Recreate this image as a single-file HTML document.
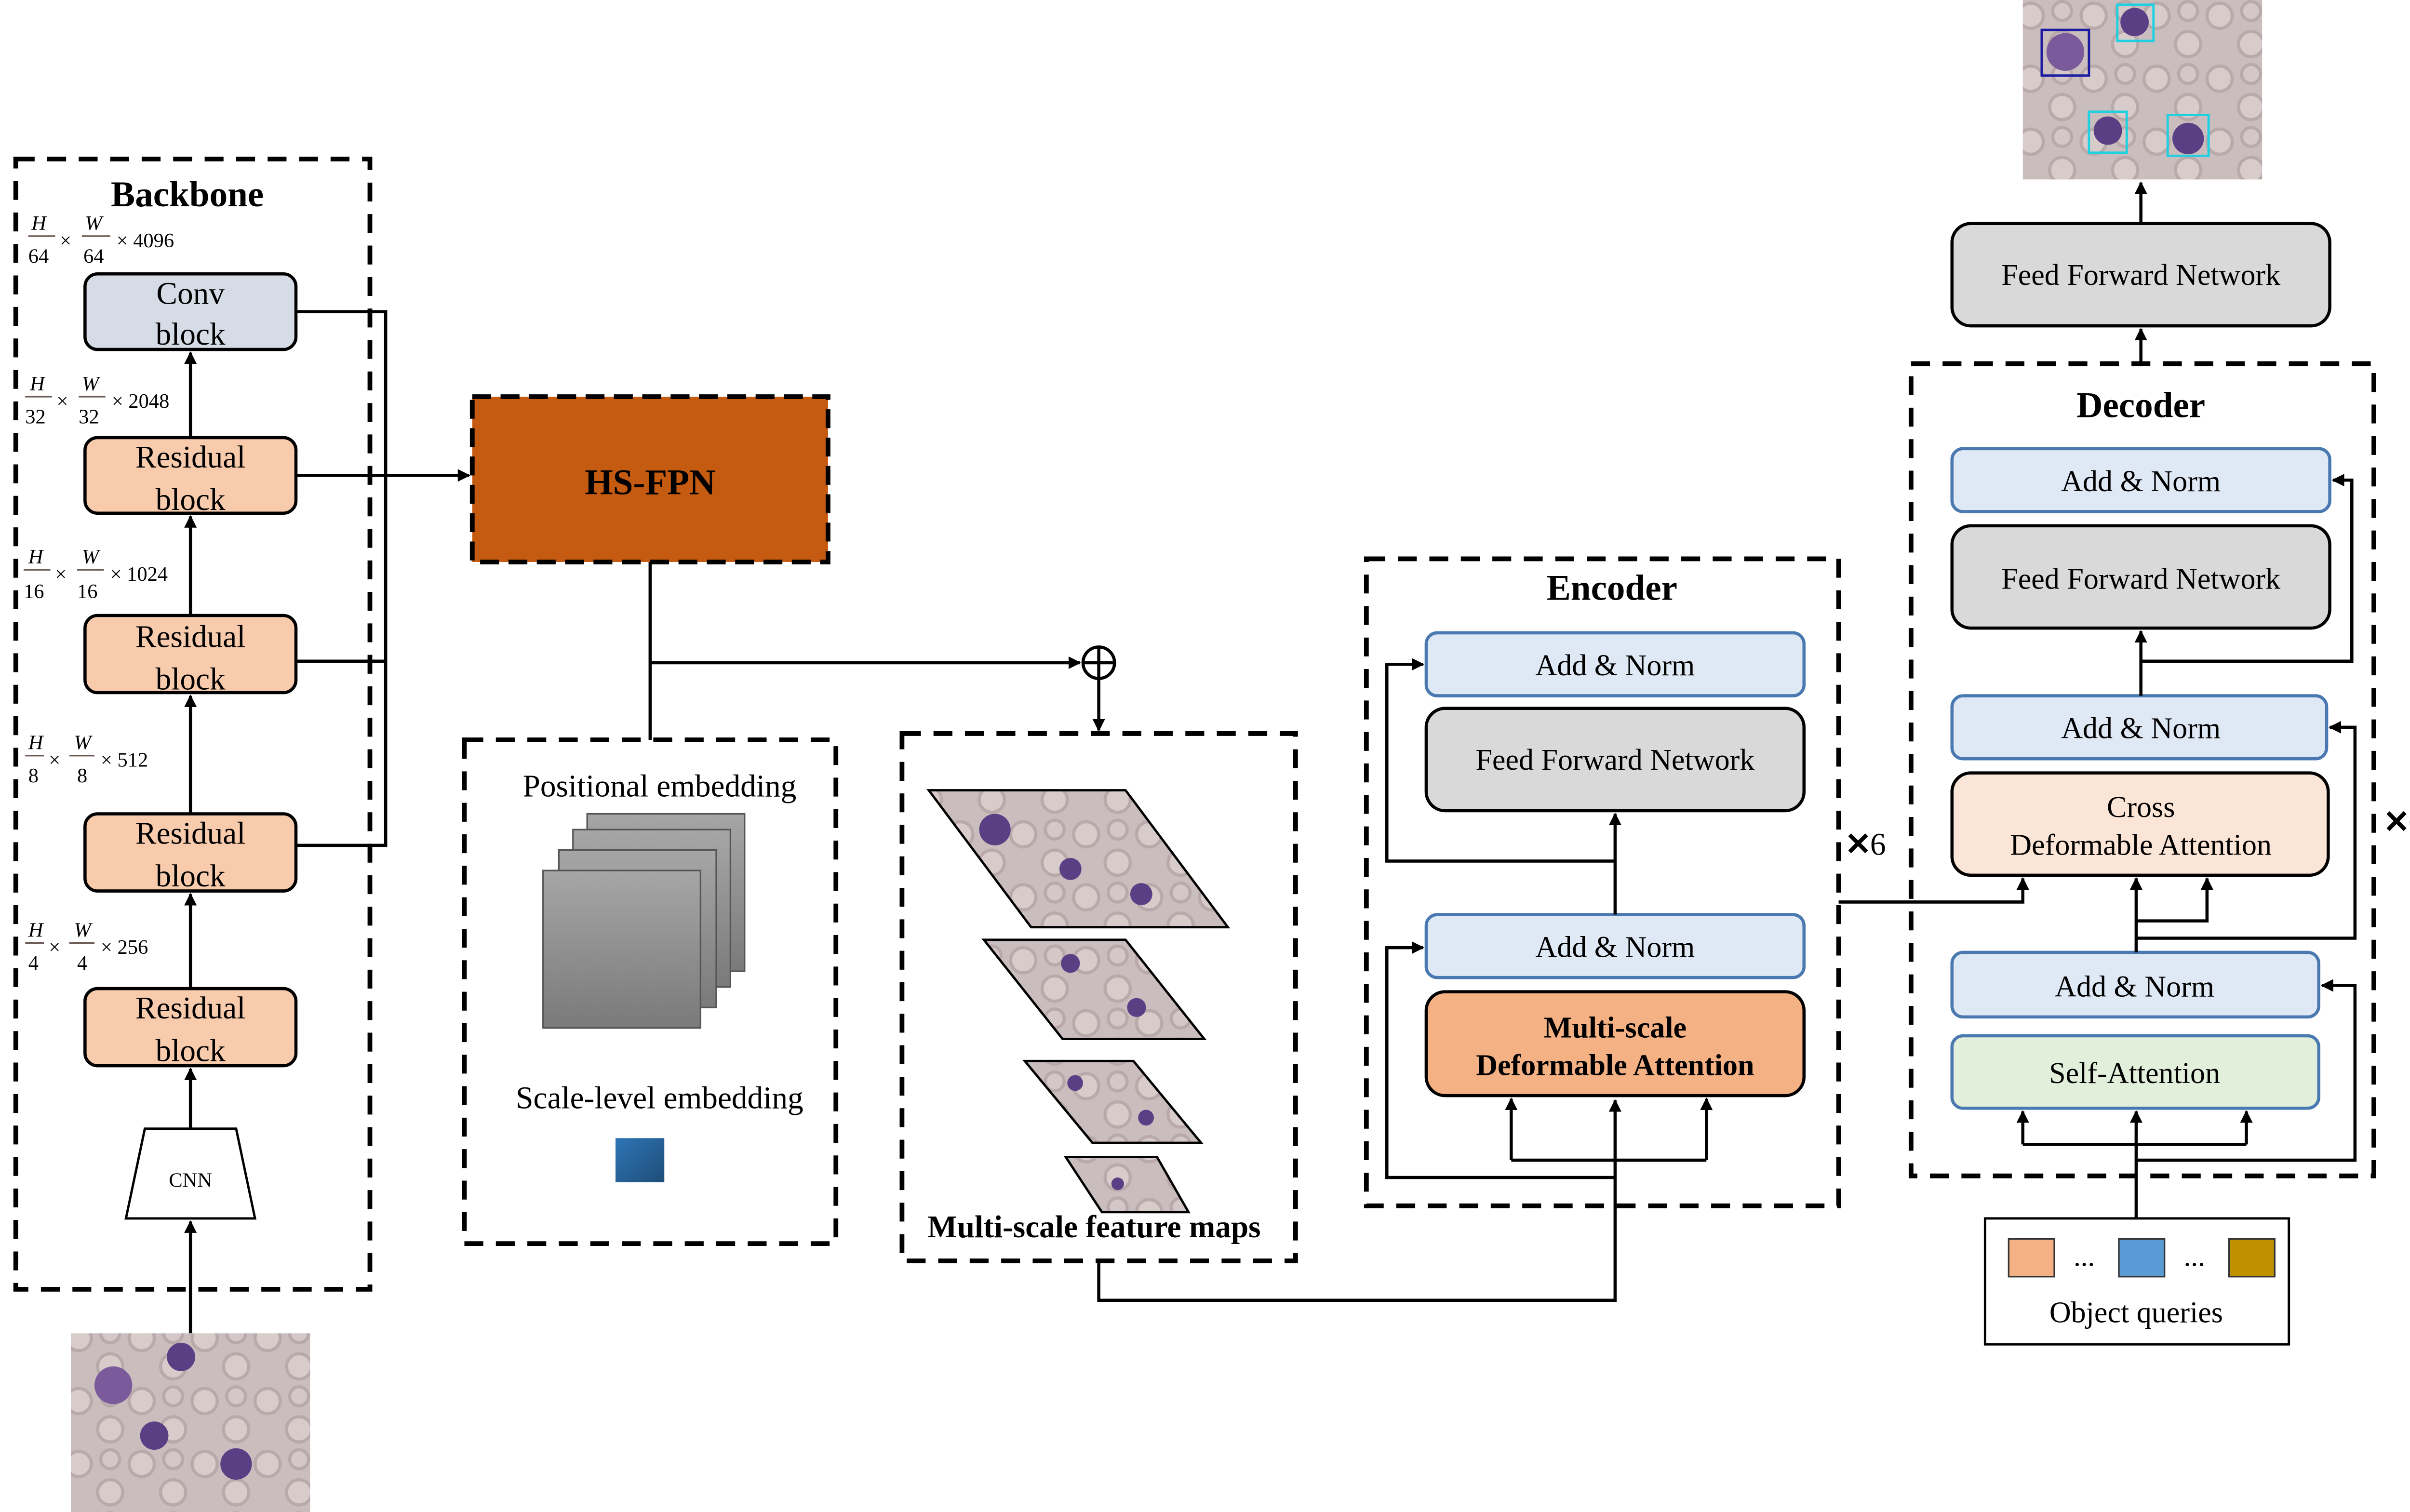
<!DOCTYPE html>
<html><head><meta charset="utf-8"><style>
html,body{margin:0;padding:0;background:#fff;}
svg{display:block;}
text{font-family:"Liberation Serif",serif;fill:#000;}
</style></head><body>
<svg width="5121" height="3137" viewBox="0 0 1568 960.5" preserveAspectRatio="none" xmlns="http://www.w3.org/2000/svg">
<defs>
<marker id="a" viewBox="0 0 10 10" refX="9" refY="5" markerWidth="4" markerHeight="4" orient="auto"><path d="M0,0L10,5L0,10z" fill="#000"/></marker>
<linearGradient id="g" x1="0" y1="0" x2="0" y2="1"><stop offset="0" stop-color="#a6a6a6"/><stop offset="1" stop-color="#7a7a7a"/></linearGradient>
<linearGradient id="bl" x1="0" y1="0" x2="1" y2="1"><stop offset="0" stop-color="#2e75b6"/><stop offset="1" stop-color="#1f4e79"/></linearGradient>
<pattern id="cells" width="40" height="40" patternUnits="userSpaceOnUse">
<rect width="40" height="40" fill="#c9bdbd"/>
<circle cx="10" cy="10" r="8" fill="#d8cccb" stroke="#b9a9aa" stroke-width="2"/>
<circle cx="30" cy="28" r="8" fill="#d8cccb" stroke="#b9a9aa" stroke-width="2"/>
<circle cx="30" cy="7" r="6" fill="#d4c7c7" stroke="#b9a9aa" stroke-width="2"/>
</pattern>
</defs>
<g fill="none" stroke="#000" stroke-width="2.2">
<!-- dashed boxes -->
<rect x="10" y="101" width="225" height="718" stroke-width="3" stroke-dasharray="12,8"/>
<rect x="295" y="470" width="236" height="320" stroke-width="3" stroke-dasharray="12,8"/>
<rect x="573" y="466" width="250" height="335" stroke-width="3" stroke-dasharray="12,8"/>
<rect x="868" y="355" width="300" height="411" stroke-width="3" stroke-dasharray="12,8"/>
<rect x="1214" y="231" width="294" height="516" stroke-width="3" stroke-dasharray="12,8"/>
</g>
<!-- Backbone -->
<text x="119" y="131" font-size="23" font-weight="bold" text-anchor="middle">Backbone</text>
<g font-size="13">
<text x="20" y="146" font-style="italic">H</text><line x1="18" y1="150" x2="35" y2="150" stroke="#6b5a55"/><text x="18" y="167">64</text><text x="38" y="157">×</text>
<text x="54" y="146" font-style="italic">W</text><line x1="52" y1="150" x2="70" y2="150" stroke="#6b5a55"/><text x="53" y="167">64</text><text x="74" y="157">× 4096</text>
<text x="19" y="248" font-style="italic">H</text><line x1="16" y1="252" x2="33" y2="252" stroke="#6b5a55"/><text x="16" y="269">32</text><text x="36" y="259">×</text>
<text x="52" y="248" font-style="italic">W</text><line x1="50" y1="252" x2="67" y2="252" stroke="#6b5a55"/><text x="50" y="269">32</text><text x="71" y="259">× 2048</text>
<text x="18" y="358" font-style="italic">H</text><line x1="15" y1="362" x2="32" y2="362" stroke="#6b5a55"/><text x="15" y="380">16</text><text x="35" y="369">×</text>
<text x="52" y="358" font-style="italic">W</text><line x1="49" y1="362" x2="66" y2="362" stroke="#6b5a55"/><text x="49" y="380">16</text><text x="70" y="369">× 1024</text>
<text x="18" y="476" font-style="italic">H</text><line x1="16" y1="480" x2="28" y2="480" stroke="#6b5a55"/><text x="18" y="497">8</text><text x="31" y="487">×</text>
<text x="47" y="476" font-style="italic">W</text><line x1="44" y1="480" x2="60" y2="480" stroke="#6b5a55"/><text x="49" y="497">8</text><text x="64" y="487">× 512</text>
<text x="18" y="595" font-style="italic">H</text><line x1="16" y1="599" x2="28" y2="599" stroke="#6b5a55"/><text x="18" y="616">4</text><text x="31" y="606">×</text>
<text x="47" y="595" font-style="italic">W</text><line x1="44" y1="599" x2="60" y2="599" stroke="#6b5a55"/><text x="49" y="616">4</text><text x="64" y="606">× 256</text>
</g>
<g stroke="#000" stroke-width="2">
<rect x="54" y="174" width="134" height="48" rx="8" fill="#d6dce5"/>
<rect x="54" y="278" width="134" height="48" rx="8" fill="#f8cbad"/>
<rect x="54" y="391" width="134" height="49" rx="8" fill="#f8cbad"/>
<rect x="54" y="517" width="134" height="49" rx="8" fill="#f8cbad"/>
<rect x="54" y="628" width="134" height="49" rx="8" fill="#f8cbad"/>
<path d="M92,717L150,717L162,774L80,774z" fill="#fff" stroke-width="1.5"/>
</g>
<g font-size="20" text-anchor="middle">
<text x="121" y="193">Conv</text><text x="121" y="219">block</text>
<text x="121" y="297">Residual</text><text x="121" y="324">block</text>
<text x="121" y="411">Residual</text><text x="121" y="438">block</text>
<text x="121" y="536">Residual</text><text x="121" y="563">block</text>
<text x="121" y="647">Residual</text><text x="121" y="674">block</text>
</g>
<text x="121" y="754" font-size="13" text-anchor="middle">CNN</text>
<g fill="none" stroke="#000" stroke-width="2">
<path d="M121,278V224" marker-end="url(#a)"/>
<path d="M121,391V328" marker-end="url(#a)"/>
<path d="M121,517V442" marker-end="url(#a)"/>
<path d="M121,628V568" marker-end="url(#a)"/>
<path d="M121,717V679" marker-end="url(#a)"/>
<path d="M121,847V776" marker-end="url(#a)"/>
<path d="M188,198H245V537H188"/>
<path d="M188,420H245"/>
<path d="M188,302H298" marker-end="url(#a)"/>
</g>
<!-- input image -->
<rect x="45" y="847" width="152" height="114" fill="url(#cells)"/>
<circle cx="72" cy="880" r="12" fill="#7a5a9a"/><circle cx="115" cy="862" r="9" fill="#5a3f85"/><circle cx="98" cy="912" r="9" fill="#5a3f85"/><circle cx="150" cy="930" r="10" fill="#5a3f85"/>
<!-- HS-FPN -->
<rect x="300" y="252" width="226" height="105" fill="#c55a11" stroke="#000" stroke-width="3" stroke-dasharray="12,6"/>
<text x="413" y="314" font-size="23" font-weight="bold" text-anchor="middle">HS-FPN</text>
<g fill="none" stroke="#000" stroke-width="2">
<path d="M413,357V470"/>
<path d="M413,421H686" marker-end="url(#a)"/>
<circle cx="698" cy="421" r="10"/>
<path d="M688,421H708M698,411V431"/>
<path d="M698,431V464" marker-end="url(#a)"/>
<path d="M698,801V826H1026V699" marker-end="url(#a)"/>
</g>
<!-- positional -->
<text x="419" y="506" font-size="20" text-anchor="middle">Positional embedding</text>
<g stroke="#555" stroke-width="1">
<rect x="373" y="517" width="100" height="100" fill="url(#g)"/>
<rect x="364" y="527" width="100" height="100" fill="url(#g)"/>
<rect x="355" y="540" width="100" height="100" fill="url(#g)"/>
<rect x="345" y="553" width="100" height="100" fill="url(#g)"/>
</g>
<text x="419" y="704" font-size="20" text-anchor="middle">Scale-level embedding</text>
<rect x="391" y="723" width="31" height="28" fill="url(#bl)"/>
<!-- feature maps -->
<g fill="url(#cells)" stroke="#000" stroke-width="1.5">
<path d="M590,502H715L780,589H655z"/>
<path d="M625,597H715L765,660H675z"/>
<path d="M651,674H720L763,726H694z"/>
<path d="M677,735H735L755,770H700z"/>
</g>
<g fill="#5a3f85"><circle cx="632" cy="527" r="10"/><circle cx="680" cy="552" r="7"/><circle cx="725" cy="568" r="7"/><circle cx="680" cy="612" r="6"/><circle cx="722" cy="640" r="6"/><circle cx="683" cy="688" r="5"/><circle cx="728" cy="710" r="5"/><circle cx="710" cy="752" r="4"/></g>
<text x="695" y="786" font-size="20" font-weight="bold" text-anchor="middle">Multi-scale feature maps</text>
<!-- Encoder -->
<text x="1024" y="381" font-size="23" font-weight="bold" text-anchor="middle">Encoder</text>
<g stroke-width="2">
<rect x="906" y="402" width="240" height="40" rx="7" fill="#dfe9f6" stroke="#4a78b0"/>
<rect x="906" y="450" width="240" height="65" rx="12" fill="#d9d9d9" stroke="#000"/>
<rect x="906" y="581" width="240" height="40" rx="7" fill="#dfe9f6" stroke="#4a78b0"/>
<rect x="906" y="630" width="240" height="66" rx="12" fill="#f4b183" stroke="#000"/>
</g>
<g font-size="19" text-anchor="middle">
<text x="1026" y="429">Add &amp; Norm</text>
<text x="1026" y="489">Feed Forward Network</text>
<text x="1026" y="608">Add &amp; Norm</text>
<text x="1026" y="659" font-weight="bold">Multi-scale</text>
<text x="1026" y="683" font-weight="bold">Deformable Attention</text>
</g>
<g fill="none" stroke="#000" stroke-width="2">
<path d="M960,737H1084"/>
<path d="M960,737V698" marker-end="url(#a)"/>
<path d="M1084,737V698" marker-end="url(#a)"/>
<path d="M1026,748H881V602H904" marker-end="url(#a)"/>
<path d="M1026,581V517" marker-end="url(#a)"/>
<path d="M1026,547H881V422H904" marker-end="url(#a)"/>
<path d="M1168,573H1285V558" marker-end="url(#a)"/>
</g>
<text x="1172" y="543" font-size="20" font-weight="bold">✕</text><text x="1188" y="543" font-size="20">6</text>
<!-- Decoder -->
<text x="1360" y="265" font-size="23" font-weight="bold" text-anchor="middle">Decoder</text>
<g stroke-width="2">
<rect x="1240" y="285" width="240" height="40" rx="7" fill="#dfe9f6" stroke="#4a78b0"/>
<rect x="1240" y="334" width="240" height="65" rx="12" fill="#d9d9d9" stroke="#000"/>
<rect x="1240" y="442" width="238" height="40" rx="7" fill="#dfe9f6" stroke="#4a78b0"/>
<rect x="1240" y="491" width="239" height="65" rx="12" fill="#fbe5d6" stroke="#000"/>
<rect x="1240" y="605" width="233" height="41" rx="7" fill="#dfe9f6" stroke="#4a78b0"/>
<rect x="1240" y="658" width="233" height="46" rx="7" fill="#e2efda" stroke="#4a78b0"/>
<rect x="1240" y="142" width="240" height="65" rx="12" fill="#d9d9d9" stroke="#000"/>
</g>
<g font-size="19" text-anchor="middle">
<text x="1360" y="312">Add &amp; Norm</text>
<text x="1360" y="374">Feed Forward Network</text>
<text x="1360" y="469">Add &amp; Norm</text>
<text x="1360" y="519">Cross</text>
<text x="1360" y="543">Deformable Attention</text>
<text x="1356" y="633">Add &amp; Norm</text>
<text x="1356" y="688">Self-Attention</text>
<text x="1360" y="181">Feed Forward Network</text>
</g>
<g fill="none" stroke="#000" stroke-width="2">
<path d="M1357,774V706" marker-end="url(#a)"/>
<path d="M1285,727H1427"/>
<path d="M1285,727V706" marker-end="url(#a)"/>
<path d="M1427,727V706" marker-end="url(#a)"/>
<path d="M1357,737H1496V626H1475" marker-end="url(#a)"/>
<path d="M1357,605V558" marker-end="url(#a)"/>
<path d="M1357,585H1402V558" marker-end="url(#a)"/>
<path d="M1357,596H1496V462H1480" marker-end="url(#a)"/>
<path d="M1360,442V401" marker-end="url(#a)"/>
<path d="M1360,420H1494V305H1482" marker-end="url(#a)"/>
<path d="M1360,231V209" marker-end="url(#a)"/>
<path d="M1360,142V116" marker-end="url(#a)"/>
</g>
<text x="1514" y="529" font-size="20" font-weight="bold">✕</text><text x="1530" y="529" font-size="20">6</text>
<!-- output image -->
<rect x="1285" y="0" width="152" height="114" fill="url(#cells)"/>
<circle cx="1312" cy="33" r="12" fill="#7a5a9a"/><circle cx="1356" cy="14" r="9" fill="#5a3f85"/><circle cx="1339" cy="83" r="9" fill="#5a3f85"/><circle cx="1390" cy="88" r="10" fill="#5a3f85"/>
<g fill="none" stroke-width="1.5"><rect x="1297" y="19" width="30" height="29" stroke="#1a1aa0"/><rect x="1345" y="3" width="23" height="23" stroke="#20d0e0"/><rect x="1327" y="71" width="24" height="26" stroke="#20d0e0"/><rect x="1377" y="73" width="26" height="26" stroke="#20d0e0"/></g>
<!-- object queries -->
<rect x="1261" y="774" width="193" height="80" fill="#fff" stroke="#000" stroke-width="1.5"/>
<rect x="1276" y="787" width="29" height="24" fill="#f4b183" stroke="#333"/>
<rect x="1346" y="787" width="29" height="24" fill="#5b9bd5" stroke="#333"/>
<rect x="1416" y="787" width="29" height="24" fill="#bf9000" stroke="#333"/>
<text x="1324" y="804" font-size="18" text-anchor="middle">...</text>
<text x="1394" y="804" font-size="18" text-anchor="middle">...</text>
<text x="1357" y="840" font-size="19" text-anchor="middle">Object queries</text>
</svg>
</body></html>
